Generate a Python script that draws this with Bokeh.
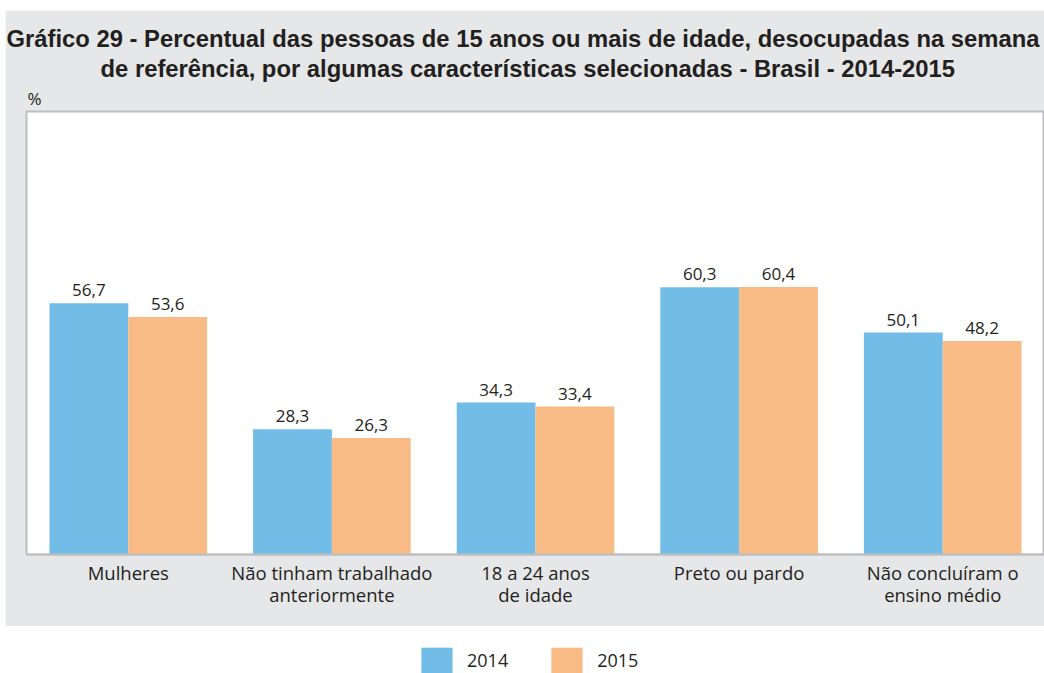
from bokeh.plotting import figure
from bokeh.models import ColumnDataSource, FactorRange, Range1d, LabelSet, Title, Legend, LegendItem
from bokeh.core.properties import value
from bokeh.transform import dodge
from bokeh.layouts import column
from bokeh.embed import file_html
from bokeh.resources import INLINE

# ---- data ----
categories = [
    "Mulheres",
    "Não tinham trabalhado\nanteriormente",
    "18 a 24 anos\nde idade",
    "Preto ou pardo",
    "Não concluíram o\nensino médio",
]
years = ["2014", "2015"]
v2014 = [56.7, 28.3, 34.3, 60.3, 50.1]
v2015 = [53.6, 26.3, 33.4, 60.4, 48.2]

title_line1 = "Gráfico 29 - Percentual das pessoas de 15 anos ou mais de idade, desocupadas na semana"
title_line2 = "de referência, por algumas características selecionadas - Brasil - 2014-2015"
unit_label = "%"

# ---- styles ----
BLUE = "#72BCE8"
ORANGE = "#F9BB85"
PANEL = "#E6E7E8"
FRAME_LINE = "#BDBEC0"
TEXT = "#231F20"
FONT = "Open Sans"
TFONT = "Liberation Sans"


def fmt(v):
    return f"{v:.1f}".replace(".", ",")


src = ColumnDataSource(dict(
    cat=categories,
    v2014=v2014,
    v2015=v2015,
    l2014=[fmt(v) for v in v2014],
    l2015=[fmt(v) for v in v2015],
))

p = figure(
    x_range=FactorRange(*categories),
    y_range=(0, 100),
    width=1039,
    height=616,
    margin=(10, 0, 0, 5),
    output_backend="svg",
    toolbar_location=None,
    min_border_left=21,
    min_border_right=0,
    min_border_top=101,
    min_border_bottom=72,
    border_fill_color=PANEL,
    background_fill_color="white",
    outline_line_color=FRAME_LINE,
    outline_line_width=2,
)
p.title.visible = False

BW = 0.387
p.vbar(x=dodge("cat", -BW / 2, range=p.x_range), top="v2014", width=BW, source=src,
       fill_color=BLUE, line_color=None)
p.vbar(x=dodge("cat", BW / 2, range=p.x_range), top="v2015", width=BW, source=src,
       fill_color=ORANGE, line_color=None)

for col, off in (("2014", -BW / 2), ("2015", BW / 2)):
    p.add_layout(LabelSet(
        x=dodge("cat", off, range=p.x_range), y="v" + col, text="l" + col, source=src,
        text_align="center", text_baseline="alphabetic", y_offset=7,
        text_font=value(FONT), text_font_size=value("17px"), text_color=value(TEXT),
    ))

p.yaxis.visible = False
p.grid.visible = False
p.xaxis.major_tick_line_color = None
p.xaxis.minor_tick_line_color = None
p.xaxis.axis_line_color = FRAME_LINE
p.xaxis.axis_line_width = 2
p.xaxis.major_label_standoff = -1
p.xaxis.major_label_text_font = FONT
p.xaxis.major_label_text_font_size = "18.5px"
p.xaxis.major_label_text_line_height = 0.9
p.xaxis.major_label_text_color = TEXT

p.add_layout(Title(text=unit_label, align="left", offset=1, standoff=4,
                   text_font=FONT, text_font_size="17px", text_font_style="normal",
                   text_color=TEXT), "above")
p.add_layout(Title(text=title_line2, align="left", offset=74, standoff=2,
                   text_font=TFONT, text_font_size="23.8px", text_font_style="bold",
                   text_color=TEXT), "above")
p.add_layout(Title(text=title_line1, align="left", offset=-20, standoff=0,
                   text_font=TFONT, text_font_size="23.8px", text_font_style="bold",
                   text_color=TEXT), "above")

# ---- legend strip (bars lie below its visible y range; only the legend shows) ----
lg = figure(x_range=FactorRange(*categories), y_range=Range1d(200, 201),
            width=1044, height=47, output_backend="svg", toolbar_location=None,
            min_border=0, outline_line_color=None, border_fill_color="white",
            background_fill_color="white")
lg.axis.visible = False
lg.grid.visible = False
r1 = lg.vbar(x=dodge("cat", -BW / 2, range=lg.x_range), top="v2014", width=BW, source=src,
             fill_color=BLUE, line_color=None)
r2 = lg.vbar(x=dodge("cat", BW / 2, range=lg.x_range), top="v2015", width=BW, source=src,
             fill_color=ORANGE, line_color=None)
legend = Legend(
    items=[LegendItem(label=years[0], renderers=[r1]), LegendItem(label=years[1], renderers=[r2])],
    orientation="horizontal", location=(396, -3),
    glyph_width=39, glyph_height=32, label_height=32, label_standoff=11, spacing=39,
    padding=0, margin=0, border_line_color=None, background_fill_alpha=0,
    label_text_font=FONT, label_text_font_size="18px", label_text_color=TEXT,
)
lg.add_layout(legend, "center")

layout = column(p, lg, spacing=0)
open("out.html", "w").write(file_html(layout, INLINE))
